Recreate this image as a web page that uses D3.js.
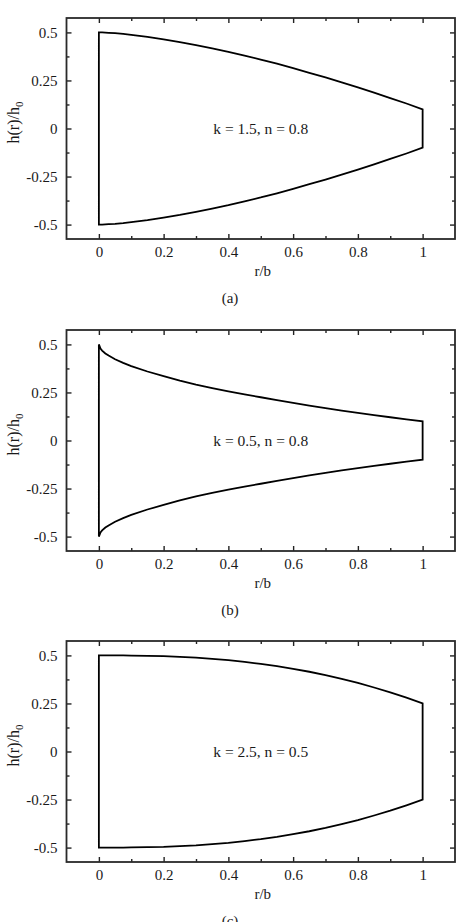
<!DOCTYPE html>
<html>
<head>
<meta charset="utf-8">
<script src="https://cdn.jsdelivr.net/npm/d3@7"></script>
<style>
  body { margin: 0; background: #fff; }
  text { font-family: "Liberation Serif", "Times New Roman", serif; fill: #1a1a1a; }
</style>
</head>
<body>
<div id="container"></div>
<script>
// data (r/b along x, h(r)/h0 along y)
const rVals = [0, 0.005, 0.01, 0.02, 0.03, 0.05, 0.075, 0.1, 0.15, 0.2, 0.25, 0.3, 0.35, 0.4, 0.45, 0.5, 0.55, 0.6, 0.65, 0.7, 0.75, 0.8, 0.85, 0.9, 0.95, 1];

const upperA = [0.5, 0.5, 0.5, 0.499, 0.498, 0.496, 0.492, 0.487, 0.477, 0.464, 0.45, 0.434, 0.417, 0.399, 0.379, 0.359, 0.337, 0.314, 0.29, 0.266, 0.24, 0.214, 0.187, 0.158, 0.13, 0.1];
const lowerA = [-0.5, -0.5, -0.5, -0.499, -0.498, -0.496, -0.492, -0.487, -0.477, -0.464, -0.45, -0.434, -0.417, -0.399, -0.379, -0.359, -0.337, -0.314, -0.29, -0.266, -0.24, -0.214, -0.187, -0.158, -0.13, -0.1];

const upperB = [0.5, 0.478, 0.468, 0.453, 0.442, 0.423, 0.404, 0.387, 0.359, 0.335, 0.311, 0.291, 0.273, 0.256, 0.24, 0.225, 0.21, 0.196, 0.182, 0.169, 0.156, 0.144, 0.132, 0.121, 0.11, 0.1];
const lowerB = [-0.5, -0.478, -0.468, -0.453, -0.442, -0.423, -0.404, -0.387, -0.359, -0.335, -0.311, -0.291, -0.273, -0.256, -0.24, -0.225, -0.21, -0.196, -0.182, -0.169, -0.156, -0.144, -0.132, -0.121, -0.11, -0.1];

const upperC = [0.5, 0.5, 0.5, 0.5, 0.5, 0.5, 0.5, 0.499, 0.498, 0.496, 0.492, 0.488, 0.482, 0.475, 0.466, 0.456, 0.444, 0.43, 0.415, 0.398, 0.378, 0.357, 0.333, 0.308, 0.28, 0.25];
const lowerC = [-0.5, -0.5, -0.5, -0.5, -0.5, -0.5, -0.5, -0.499, -0.498, -0.496, -0.492, -0.488, -0.482, -0.475, -0.466, -0.456, -0.444, -0.43, -0.415, -0.398, -0.378, -0.357, -0.333, -0.308, -0.28, -0.25];

const annotations = ["k = 1.5, n = 0.8", "k = 0.5, n = 0.8", "k = 2.5, n = 0.5"];
const captions = ["(a)", "(b)", "(c)"];

const xTicks = [0, 0.2, 0.4, 0.6, 0.8, 1];
const xMinor = [0.1, 0.3, 0.5, 0.7, 0.9];
const yTicks = [-0.5, -0.25, 0, 0.25, 0.5];
const yMinor = [-0.375, -0.125, 0.125, 0.375];
const xTickLabels = ["0", "0.2", "0.4", "0.6", "0.8", "1"];
const yTickLabels = ["-0.5", "-0.25", "0", "0.25", "0.5"];

const panels = [
  { upper: upperA, lower: lowerA, note: annotations[0], cap: captions[0] },
  { upper: upperB, lower: lowerB, note: annotations[1], cap: captions[1] },
  { upper: upperC, lower: lowerC, note: annotations[2], cap: captions[2] }
];

// dimensions
const width = 464, height = 922;
const plotLeft = 66.5, plotRight = 455;
const plotH = 221;
const panelTops = [18, 330, 641];

const svg = d3.select("#container")
  .append("svg")
  .attr("width", width)
  .attr("height", height);

svg.append("rect").attr("width", width).attr("height", height).attr("fill", "#fff");

const x = d3.scaleLinear().domain([-0.1, 1.1]).range([plotLeft, plotRight]);

panels.forEach((p, i) => {
  const top = panelTops[i];
  const bottom = top + plotH;
  const y = d3.scaleLinear().domain([-0.575, 0.575]).range([bottom, top]);

  const g = svg.append("g");

  // the outline: up the left edge, along the top curve, down at r/b = 1, back along the bottom curve
  const pts = rVals.map((r, j) => [r, p.upper[j]])
    .concat(rVals.map((r, j) => [r, p.lower[j]]).reverse());
  const line = d3.line().x(d => x(d[0])).y(d => y(d[1]));
  g.append("path")
    .attr("d", line(pts) + "Z")
    .attr("fill", "none")
    .attr("stroke", "#000")
    .attr("stroke-width", 1.8)
    .attr("stroke-linejoin", "miter");

  // axes with inward ticks on all four sides
  g.append("g").attr("transform", `translate(0,${bottom})`)
    .call(d3.axisBottom(x).tickValues(xTicks).tickSize(-5).tickPadding(7)
      .tickFormat((d, k) => xTickLabels[k]));
  g.append("g").attr("transform", `translate(0,${bottom})`)
    .call(d3.axisBottom(x).tickValues(xMinor).tickSize(-3).tickFormat(""));
  g.append("g").attr("transform", `translate(0,${top})`)
    .call(d3.axisTop(x).tickValues(xTicks).tickSize(-5).tickFormat(""));
  g.append("g").attr("transform", `translate(0,${top})`)
    .call(d3.axisTop(x).tickValues(xMinor).tickSize(-3).tickFormat(""));

  g.append("g").attr("transform", `translate(${plotLeft},0)`)
    .call(d3.axisLeft(y).tickValues(yTicks).tickSize(-5).tickPadding(9)
      .tickFormat((d, k) => yTickLabels[k]));
  g.append("g").attr("transform", `translate(${plotLeft},0)`)
    .call(d3.axisLeft(y).tickValues(yMinor).tickSize(-3).tickFormat(""));
  g.append("g").attr("transform", `translate(${plotRight},0)`)
    .call(d3.axisRight(y).tickValues(yTicks).tickSize(-5).tickFormat(""));
  g.append("g").attr("transform", `translate(${plotRight},0)`)
    .call(d3.axisRight(y).tickValues(yMinor).tickSize(-3).tickFormat(""));

  g.selectAll(".domain").remove();
  g.selectAll(".tick line").attr("stroke", "#222").attr("stroke-width", 1.4);
  g.selectAll(".tick text")
    .style("font-family", "'Liberation Serif', serif")
    .style("font-size", "15px")
    .attr("fill", "#1a1a1a");

  // frame
  g.append("rect")
    .attr("x", plotLeft).attr("y", top)
    .attr("width", plotRight - plotLeft).attr("height", plotH)
    .attr("fill", "none")
    .attr("stroke", "#2a2a2a")
    .attr("stroke-width", 1.8);

  // parameter note in the middle of the shape
  g.append("text")
    .attr("x", x(0.5)).attr("y", y(0))
    .attr("text-anchor", "middle")
    .attr("dominant-baseline", "central")
    .style("font-size", "15.5px")
    .text(p.note);

  // axis titles
  g.append("text")
    .attr("x", (plotLeft + plotRight) / 2 + 2)
    .attr("y", bottom + 37)
    .attr("text-anchor", "middle")
    .style("font-size", "15px")
    .text("r/b");

  const yt = g.append("text")
    .attr("transform", `translate(19,${(top + bottom) / 2 - 6}) rotate(-90)`)
    .attr("text-anchor", "middle")
    .style("font-size", "16px");
  yt.append("tspan").text("h(r)/h");
  yt.append("tspan").attr("dy", 4).style("font-size", "11px").text("0");

  // caption
  g.append("text")
    .attr("x", 230)
    .attr("y", bottom + 64)
    .attr("text-anchor", "middle")
    .style("font-size", "15px")
    .text(p.cap);
});
</script>
</body>
</html>
